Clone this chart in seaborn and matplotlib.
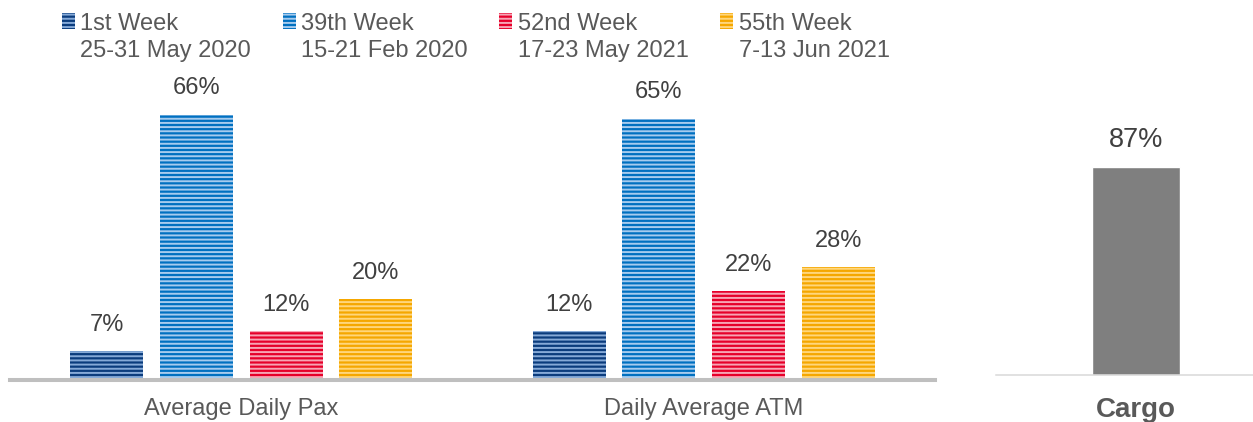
import pandas as pd
import numpy as np
import matplotlib
matplotlib.use('Agg')
import matplotlib.pyplot as plt
import seaborn as sns
from matplotlib.patches import Rectangle
from matplotlib.legend_handler import HandlerPatch

# data
metrics = ['Average Daily Pax', 'Daily Average ATM']
weeks = ['1st Week\n25-31 May 2020', '39th Week\n15-21 Feb 2020',
         '52nd Week\n17-23 May 2021', '55th Week\n7-13 Jun 2021']
pax_values = [7, 66, 12, 20]
atm_values = [12, 65, 22, 28]
cargo_label = ['Cargo']
cargo_values = [87]

# colours: bar face / stripe colour
face_colors = ['#0B3C7D', '#0070C0', '#E6002A', '#F5A700']
stripe_colors = ['#86AAD8', '#A6CBEE', '#F6A5B5', '#FFD67C']

df = pd.DataFrame({
    'metric': np.repeat(metrics, len(weeks)),
    'week': weeks * len(metrics),
    'value': pax_values + atm_values,
})

sns.set_style('white')
plt.rcParams['font.family'] = ['Liberation Sans', 'DejaVu Sans']
plt.rcParams['hatch.linewidth'] = 1.4

fig = plt.figure(figsize=(12.53, 4.22), dpi=100)
ax1 = fig.add_axes([10 / 1253, 42.5 / 422, 925 / 1253, 281 / 422])
ax2 = fig.add_axes([996 / 1253, 47 / 422, 280 / 1253, 239 / 422])

# Left panel: grouped striped bars
sns.barplot(data=df, x='metric', y='value', hue='week', order=metrics, hue_order=weeks,
            palette=face_colors, saturation=1, width=0.775, gap=0.185,
            errorbar=None, legend=False, ax=ax1)
for cont, sc in zip(ax1.containers, stripe_colors):
    for p in cont.patches:
        p.set_hatch('----')
        p.set_edgecolor(sc)
        p.set_linewidth(0)
    ax1.bar_label(cont, fmt='%g%%', padding=11, fontsize=17, color='#404040')

ax1.set_xlim(-0.5, 1.5)
ax1.set_ylim(0, 70)
ax1.set_xlabel('')
ax1.set_ylabel('')
ax1.set_yticks([])
for s in ['left', 'right', 'top']:
    ax1.spines[s].set_visible(False)
ax1.spines['bottom'].set_color('#BFBFBF')
ax1.spines['bottom'].set_linewidth(2.9)
ax1.tick_params(axis='x', length=0, pad=13, labelsize=17, labelcolor='#595959')

# Right panel: cargo
sns.barplot(x=cargo_label, y=cargo_values, color='#7F7F7F', saturation=1, width=0.314,
            errorbar=None, ax=ax2)
ax2.bar_label(ax2.containers[0], fmt='%g%%', padding=10, fontsize=19.5, color='#404040')
ax2.set_xlim(-0.5, 0.5)
ax2.set_ylim(0, 100)
ax2.set_yticks([])
for s in ['left', 'right', 'top']:
    ax2.spines[s].set_visible(False)
ax2.spines['bottom'].set_color('#D9D9D9')
ax2.spines['bottom'].set_linewidth(1.1)
ax2.tick_params(axis='x', length=0, pad=16, labelsize=20, labelcolor='#595959')
for t in ax2.get_xticklabels():
    t.set_fontweight('bold')


# legend handle: small striped square next to the first text line
def top_square(legend, orig_handle, xdescent, ydescent, width, height, fontsize):
    return Rectangle((-xdescent, 0.72 * fontsize), 0.55 * fontsize, 0.65 * fontsize)


handles = [c.patches[0] for c in ax1.containers]
leg = fig.legend(handles, weeks, loc='upper left', bbox_to_anchor=(62 / 1253, 1 - 13 / 422),
                 ncol=4, frameon=False, fontsize=17, borderpad=0, borderaxespad=0,
                 handlelength=0.55, handletextpad=0.22, columnspacing=1.35,
                 handler_map={Rectangle: HandlerPatch(patch_func=top_square)})
for t in leg.get_texts():
    t.set_color('#595959')
    t.set_linespacing(1.27)

fig.savefig('out.png', dpi=100)
